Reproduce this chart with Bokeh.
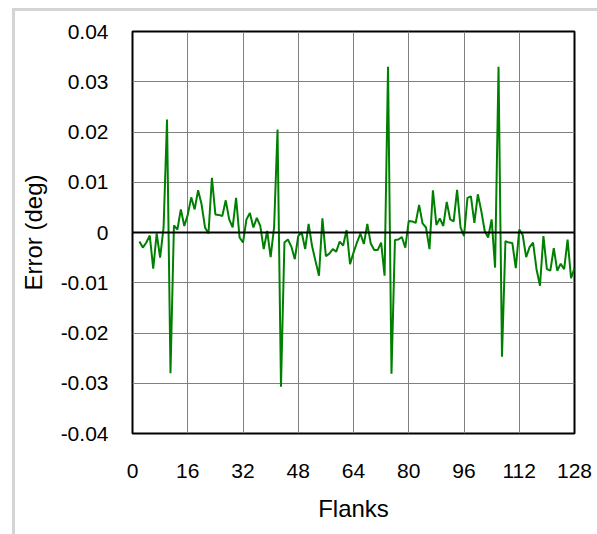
from bokeh.plotting import figure
from bokeh.models import Range1d, FixedTicker, Span
from bokeh.embed import file_html
from bokeh.resources import INLINE

flanks = list(range(2, 129))
error_deg = [
    -0.0018, -0.0030, -0.0020, -0.0006, -0.0072, -0.0002, -0.0050, 0.0010, 0.0225, -0.0280,
    0.0014, 0.0006, 0.0046, 0.0013, 0.0035, 0.0070, 0.0046, 0.0084, 0.0056, 0.0010,
    -0.0002, 0.0109, 0.0036, 0.0035, 0.0033, 0.0064, 0.0026, 0.0010, 0.0069, -0.0010,
    -0.0020, 0.0026, 0.0039, 0.0010, 0.0029, 0.0013, -0.0033, 0.0003, -0.0049, 0.0010,
    0.0205, -0.0307, -0.0020, -0.0014, -0.0028, -0.0053, -0.0007, 0.0000, -0.0033, 0.0017,
    -0.0027, -0.0057, -0.0086, 0.0028, -0.0047, -0.0042, -0.0033, -0.0038, -0.0018, -0.0026,
    0.0005, -0.0063, -0.0040, -0.0020, -0.0002, -0.0023, 0.0017, -0.0022, -0.0035, -0.0035,
    -0.0020, -0.0086, 0.0330, -0.0281, -0.0015, -0.0014, -0.0009, -0.0030, 0.0023, 0.0022,
    0.0019, 0.0055, 0.0018, 0.0010, -0.0033, 0.0084, 0.0015, 0.0028, 0.0013, 0.0061,
    0.0026, 0.0022, 0.0085, 0.0010, -0.0007, 0.0069, 0.0072, 0.0019, 0.0076, 0.0043,
    0.0003, -0.0010, 0.0026, -0.0070, 0.0330, -0.0247, -0.0017, -0.0020, -0.0021, -0.0071,
    0.0006, -0.0005, -0.0049, -0.0029, -0.0020, -0.0073, -0.0106, -0.0007, -0.0073, -0.0076,
    -0.0031, -0.0076, -0.0062, -0.0073, -0.0014, -0.0091, -0.0071,
]

x_ticks = [0, 16, 32, 48, 64, 80, 96, 112, 128]
y_ticks = [-0.04, -0.03, -0.02, -0.01, 0, 0.01, 0.02, 0.03, 0.04]
y_tick_labels = ["-0.04", "-0.03", "-0.02", "-0.01", "0", "0.01", "0.02", "0.03", "0.04"]

FONT = "Liberation Sans"
PANEL_EDGE = "#d4d4d4"

p = figure(width=597, height=534, output_backend="svg", toolbar_location=None,
           x_range=Range1d(0, 128), y_range=Range1d(-0.04, 0.04),
           min_border_left=132, min_border_right=23, min_border_top=31, min_border_bottom=101)

p.background_fill_color = "white"
p.border_fill_color = "white"
p.border_fill_alpha = 0
p.outline_line_color = "black"
p.outline_line_width = 2

# light grey panel edge (left and top) behind the transparent canvas border area
p.styles = {
    "background-color": "white",
    "background-image": f"linear-gradient({PANEL_EDGE}, {PANEL_EDGE}), linear-gradient({PANEL_EDGE}, {PANEL_EDGE})",
    "background-size": "3px 100%, 100% 3px",
    "background-position": "12px 8px, 12px 8px",
    "background-repeat": "no-repeat",
}

p.xaxis.ticker = FixedTicker(ticks=x_ticks)
p.yaxis.ticker = FixedTicker(ticks=y_ticks)
p.yaxis.major_label_overrides = {t: s for t, s in zip(y_ticks, y_tick_labels)}

for ax in (p.xaxis[0], p.yaxis[0]):
    ax.axis_line_color = None
    ax.major_tick_line_color = None
    ax.minor_tick_line_color = None
    ax.major_label_text_font = FONT
    ax.major_label_text_font_size = "21px"
    ax.major_label_text_color = "black"
    ax.axis_label_text_font = FONT
    ax.axis_label_text_font_size = "24px"
    ax.axis_label_text_font_style = "normal"
    ax.axis_label_text_color = "black"

p.xaxis.axis_label = "Flanks"
p.yaxis.axis_label = "Error (deg)"
p.xaxis.major_label_standoff = 24
p.yaxis.major_label_standoff = 18
p.xaxis.axis_label_standoff = 14
p.yaxis.axis_label_standoff = 11

p.grid.grid_line_color = "#808080"
p.grid.grid_line_width = 1

p.add_layout(Span(location=0, dimension="width", line_color="black", line_width=2))

p.line(flanks, error_deg, line_color="#008000", line_width=2)

open("out.html", "w").write(file_html(p, INLINE))
